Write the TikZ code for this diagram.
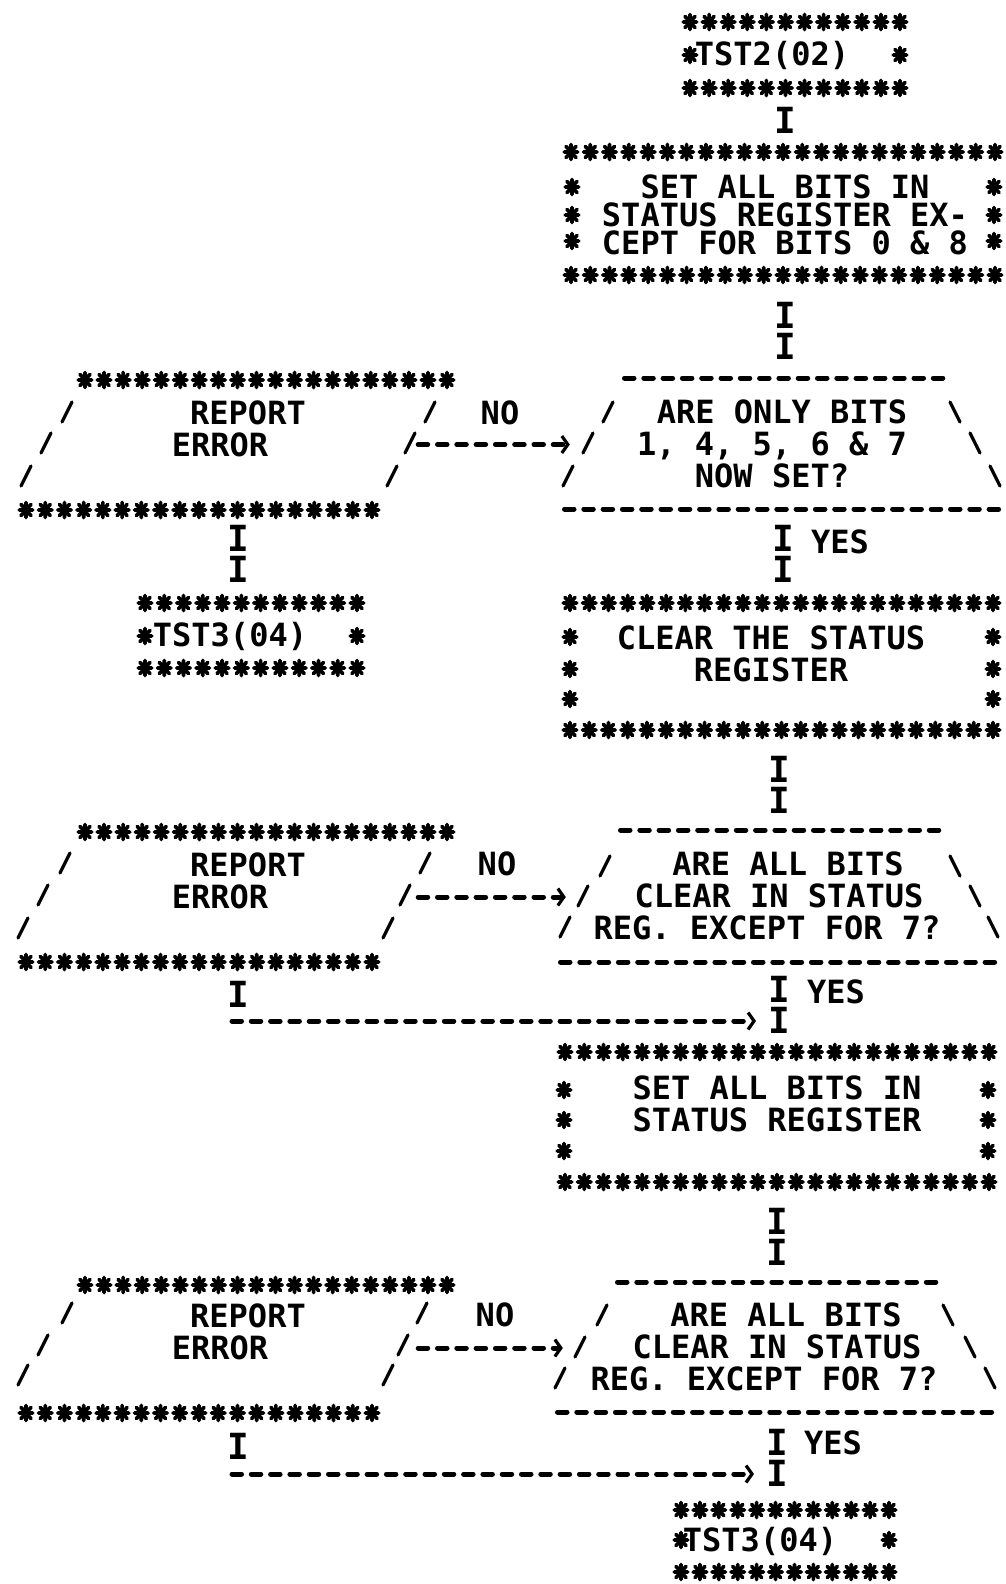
\documentclass[tikz,border=0pt]{standalone}
\usepackage{fontspec}
\newfontfamily\asc{DejaVu Sans Mono}
\usetikzlibrary{arrows.meta}
\tikzset{
  astar/.pic={\draw[line width=3.7pt,line cap=round] (-6.8,0)--(6.8,0) (0,-7.6)--(0,7.6) (-5,-5.6)--(5,5.6) (-5,5.6)--(5,-5.6);},
  txt/.style={font=\asc\bfseries\fontsize{32}{32}\selectfont, align=center, inner sep=0pt},
  ich/.style={font=\asc\bfseries\fontsize{36}{36}\selectfont, inner sep=0pt},
  lbl/.style={font=\asc\bfseries\fontsize{32}{32}\selectfont, inner sep=0pt},
  dashln/.style={line width=5pt, line cap=round, dash pattern=on 9.5pt off 9.8pt},
  noarr/.style={dashln, -{Straight Barb[length=6pt,width=17pt,line width=3.2pt]}},
  slashln/.style={line width=3.2pt, line cap=round},
}
\newcommand\StarRow[4]{\foreach \k in {0,...,#4}{\pic at ({#1+(#2-#1)*\k/#4},#3) {astar};}}
\newcommand\StarPair[3]{\pic at (#1,#3) {astar}; \pic at (#2,#3) {astar};}
\newcommand\DashRow[3]{\draw[dashln] ({#1+2.5},#3) -- (#2,#3);}
\newcommand\FSl[2]{\draw[slashln] ({#1-5},{#2+10}) -- ({#1+5},{#2-10});}
\newcommand\BSl[2]{\draw[slashln] ({#1-5},{#2-10}) -- ({#1+5},{#2+10});}
\begin{document}
\begin{tikzpicture}[x=1pt,y=-1pt]
\fill[white] (0,0) rectangle (1006,1584);
\useasboundingbox (0,0) rectangle (1006,1584);

% ---------- main column nodes ----------
\node[txt, minimum width=220pt, minimum height=90pt] (tst2) at (772,55) {TST2(02)};
\node[txt, font=\asc\bfseries\fontsize{32}{28}\selectfont, minimum width=440pt, minimum height=149pt] (box1) at (785,215)
  {SET ALL BITS IN\\STATUS REGISTER EX-\\CEPT FOR BITS 0 \& 8};
\node[txt, minimum width=404pt, minimum height=143pt] (dec1) at (772,443.5)
  {\hspace*{20pt}ARE ONLY BITS\\1, 4, 5, 6 \& 7\\NOW SET?};
\node[txt, minimum width=440pt, minimum height=153pt] (box2) at (771,669.5)
  {CLEAR THE STATUS\\REGISTER\\\mbox{}};
\node[txt, minimum width=426pt, minimum height=144pt] (dec2) at (779,896)
  {\hspace*{18pt}ARE ALL BITS\\CLEAR IN STATUS\\\hspace*{-24pt}REG. EXCEPT FOR 7?};
\node[txt, minimum width=440pt, minimum height=156pt] (box3) at (777,1120)
  {SET ALL BITS IN\\STATUS REGISTER\\\mbox{}};
\node[txt, minimum width=428pt, minimum height=142pt] (dec3) at (777,1347)
  {\hspace*{18pt}ARE ALL BITS\\CLEAR IN STATUS\\\hspace*{-26pt}REG. EXCEPT FOR 7?};
\node[txt, minimum width=220pt, minimum height=86pt] (tst3b) at (760,1541) {TST3(04)};

% ---------- left column nodes ----------
\node[txt, minimum width=362pt, minimum height=143pt] (rep1) at (234,444.5)
  {\hspace*{28pt}REPORT\\\hspace*{-28pt}ERROR\\\mbox{}};
\node[txt, minimum width=220pt, minimum height=90pt] (tst3l) at (230,636) {TST3(04)};
\node[txt, minimum width=362pt, minimum height=142pt] (rep2) at (234,897)
  {\hspace*{28pt}REPORT\\\hspace*{-28pt}ERROR\\\mbox{}};
\node[txt, minimum width=362pt, minimum height=140pt] (rep3) at (234,1348)
  {\hspace*{28pt}REPORT\\\hspace*{-28pt}ERROR\\\mbox{}};

% ---------- borders ----------
% TST2
\StarRow{690}{900}{22}{11} \StarRow{690}{900}{88}{11} \StarPair{690}{900}{55}
% box1
\StarRow{571}{995}{152}{22} \StarRow{571}{995}{275}{22}
\StarPair{572}{994}{187} \StarPair{572}{994}{215} \StarPair{572}{994}{241}
% dec1
\DashRow{622}{945}{378} \DashRow{562}{1005}{509}
\FSl{608}{412} \FSl{588}{443} \FSl{568}{476}
\BSl{955}{412} \BSl{975}{443} \BSl{995}{476}
% box2
\StarRow{570}{993}{603}{22} \StarRow{570}{993}{730}{22}
\StarPair{570}{993}{637} \StarPair{570}{993}{669} \StarPair{570}{993}{699}
% dec2
\DashRow{618}{942}{830} \DashRow{558}{998}{962}
\FSl{605}{866} \FSl{583}{896} \FSl{565}{927}
\BSl{955}{866} \BSl{975}{896} \BSl{993}{927}
% box3
\StarRow{565}{989}{1052}{22} \StarRow{565}{989}{1182}{22}
\StarPair{564}{988}{1090} \StarPair{564}{988}{1120} \StarPair{564}{988}{1151}
% dec3
\DashRow{615}{937}{1282} \DashRow{555}{998}{1412}
\FSl{602}{1315} \FSl{580}{1347} \FSl{560}{1378}
\BSl{948}{1315} \BSl{970}{1347} \BSl{990}{1378}
% TST3 bottom
\StarRow{681}{889}{1510}{11} \StarRow{681}{889}{1572}{11} \StarPair{681}{889}{1540}
% rep1
\StarRow{85}{447}{380}{19} \StarRow{26}{372}{510}{18}
\FSl{67}{412} \FSl{46}{443} \FSl{26}{476}
\FSl{430}{412} \FSl{410}{443} \FSl{392}{476}
% TST3 left
\StarRow{145}{357}{603}{11} \StarRow{145}{357}{668}{11} \StarPair{145}{357}{636}
% rep2
\StarRow{85}{447}{832}{19} \StarRow{26}{372}{962}{18}
\FSl{65}{863} \FSl{43}{895} \FSl{23}{928}
\FSl{425}{863} \FSl{405}{895} \FSl{388}{928}
% rep3
\StarRow{85}{447}{1285}{19} \StarRow{26}{372}{1413}{18}
\FSl{67}{1313} \FSl{43}{1345} \FSl{23}{1375}
\FSl{422}{1313} \FSl{403}{1345} \FSl{388}{1375}

% ---------- connector columns ----------
\coordinate (cA) at (785,0);
\coordinate (cB) at (783,0);
\coordinate (cC) at (779,0);
\coordinate (cD) at (777,0);
\coordinate (cL) at (238,0);
\coordinate (m2) at (238,1021);
\coordinate (m3) at (238,1474);
\coordinate (j2) at (779,1021);
\coordinate (j3) at (777,1474);

% ---------- vertical connectors ----------
\path (tst2.south -| cA) -- node[ich] (i1) {I} (box1.north -| cA);
\path (box1.south -| cA) -- node[ich,yshift=15.5pt] (i2a) {I} node[ich,yshift=-15.5pt] (i2b) {I} (dec1.north -| cA);
\path (dec1.south -| cB) -- node[ich,yshift=15.5pt] (i3a) {I} node[ich,yshift=-15.5pt] (i3b) {I} (box2.north -| cB);
\path (box2.south -| cC) -- node[ich,yshift=15.5pt] (i4a) {I} node[ich,yshift=-15.5pt] (i4b) {I} (dec2.north -| cC);
\path (dec2.south -| cC) -- node[ich,yshift=15.5pt] (i5a) {I} node[ich,yshift=-15.5pt] (i5b) {I} (box3.north -| cC);
\path (box3.south -| cD) -- node[ich,yshift=15.5pt] (i6a) {I} node[ich,yshift=-15.5pt] (i6b) {I} (dec3.north -| cD);
\path (dec3.south -| cD) -- node[ich,yshift=15.5pt] (i7a) {I} node[ich,yshift=-15.5pt] (i7b) {I} (tst3b.north -| cD);
\path (rep1.south -| cL) -- node[ich,yshift=15.5pt] (l1a) {I} node[ich,yshift=-15.5pt] (l1b) {I} (tst3l.north -| cL);
\path (rep2.south -| cL) -- node[ich] (l2) {I} (m2);
\path (rep3.south -| cL) -- node[ich] (l3) {I} (m3);

% ---------- NO branches ----------
\draw[noarr] ([xshift=3pt]rep1.east) -- (rep1.east -| dec1.west);
\draw[noarr] ([xshift=3pt]rep2.east) -- (rep2.east -| dec2.west);
\draw[noarr] ([xshift=3pt]rep3.east) -- (rep3.east -| dec3.west);
\draw[noarr, shorten >=23pt] ([xshift=-6pt]m2) -- (j2);
\draw[noarr, shorten >=23pt] ([xshift=-6pt]m3) -- (j3);

% ---------- labels ----------
\node[lbl] (no1) at (500,413) {NO};
\node[lbl] (no2) at (497,864) {NO};
\node[lbl] (no3) at (495,1315) {NO};
\node[lbl] (yes1) at (840,542) {YES};
\node[lbl] (yes2) at (836,992) {YES};
\node[lbl] (yes3) at (833,1443) {YES};
\end{tikzpicture}
\end{document}
